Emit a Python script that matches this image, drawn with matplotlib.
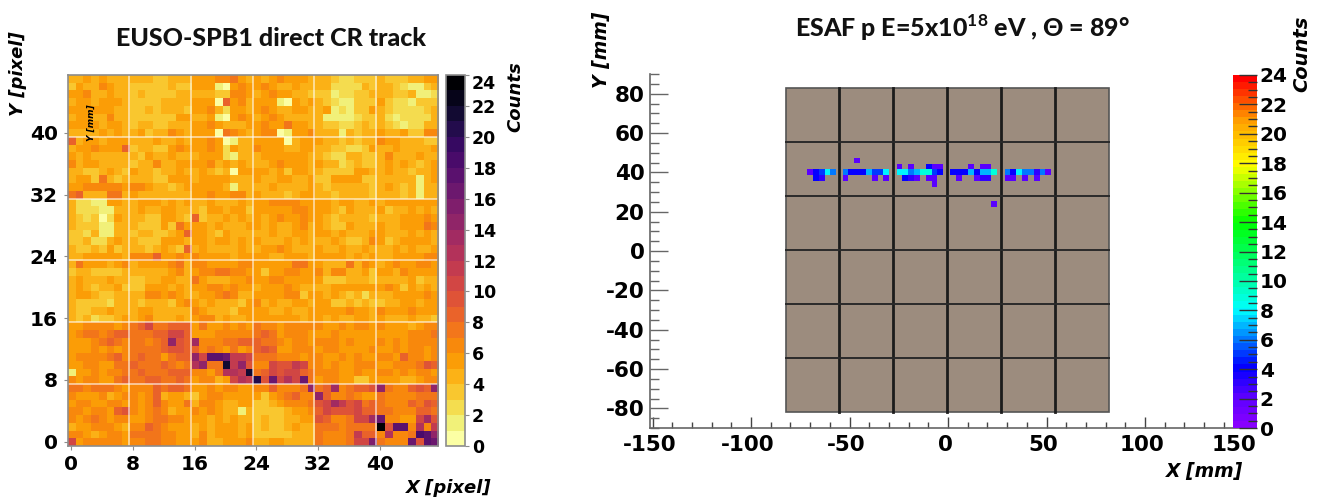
import numpy as np
import matplotlib
matplotlib.use('Agg')
import matplotlib.pyplot as plt
from matplotlib.colors import LinearSegmentedColormap, Normalize
from matplotlib.patches import Rectangle
from matplotlib.ticker import MultipleLocator
from matplotlib.transforms import ScaledTranslation

plt.rcParams['font.family'] = 'DejaVu Sans'
plt.rcParams['mathtext.fontset'] = 'custom'
plt.rcParams['mathtext.bf'] = 'Lato:bold'
plt.rcParams['axes.unicode_minus'] = False

W, H = 1320, 497

# left panel counts, top row (Y=47) first, base 36 digits, six groups of 8 columns
spb_rows = [
    "44545444 44433444 55566754 54565554 44322333 43334455",
    "35446544 33333433 55510565 56544544 44222243 44321134",
    "55644544 34333344 44433665 45655443 33122334 44334112",
    "45545554 33334444 55508564 55510545 43211333 53221333",
    "55555544 33434443 55642554 56544554 45121335 43222234",
    "45544644 33333355 44510565 45654444 41111233 42122224",
    "55554554 34433444 55654445 56557554 43322343 43212244",
    "44445454 45344654 55507654 56601556 44414344 54453366",
    "84554555 44454454 55650144 55550455 54434344 65544433",
    "45565558 34433565 55652544 65554455 44332235 44544445",
    "54544444 43544544 45552144 45555554 43224433 46444544",
    "64554444 34464455 55645454 44565554 54423433 45454345",
    "44334543 54434454 45434055 55453554 43333554 45443445",
    "45537434 44433555 45555444 54455445 33555533 44444145",
    "55666665 66544345 55554144 44544445 43444443 45434144",
    "78444774 54444444 55655664 54443455 44344443 44434144",
    "42211554 45554545 44544454 55666655 55455445 45555555",
    "42221144 45445544 43554553 55555665 55435444 53445454",
    "43230254 44335543 83445454 54565565 54344443 44455565",
    "43331144 43335375 55454445 54544564 54335444 54455576",
    "33241144 34433458 55435444 44544554 55454445 54445454",
    "33422454 43335554 55455454 54445454 44543346 53455554",
    "43343534 44345438 45444454 45565444 54454454 44545445",
    "44555554 66685565 65555455 55445554 55554545 44555566",
    "47555456 45555674 66555566 55555775 54447465 45655665",
    "34433334 44444564 56677665 53556655 64664453 55465555",
    "45444544 33445544 75444556 55665555 53334443 44445344",
    "45434453 33555454 55665655 45556544 44555555 56535454",
    "45543344 44665654 45567644 55556635 54543424 44555565",
    "43333244 43444356 54544435 64544554 55334343 34455455",
    "43344544 45544444 65444355 55445445 55556554 65556555",
    "43423345 45644454 56645445 55555545 54544554 54445443",
    "55666656 78a77888 57556565 76656666 65565665 65554566",
    "56776788 77788aa8 55566666 78756665 55655555 55556667",
    "55567876 77678e98 d6667788 87765665 66656555 65656666",
    "55565656 77778998 86765756 89855666 56655556 55656656",
    "56666786 78775788 eahhgbba 77766656 65565655 66586656",
    "55665577 87778767 ce77lbe9 66a99ba6 65655666 55666798",
    "15565667 78777888 6657ccbl 78a9aa87 66655655 66565665",
    "65665578 77887787 56645acb k9gacag7 56655335 55544566",
    "77677765 66687887 55656655 6686667e 78d67889 e766898e",
    "65556456 65684554 35665555 53567866 e8667655 76666777",
    "56655665 65686557 46654455 33456667 9adb9a78 76668798",
    "66566589 65676455 65654414 33334556 8a999a88 77666887",
    "65676566 55677665 55454544 34334455 98667aad g6655ad9",
    "45566654 66876555 45455545 34334544 77767777 o9hh6c6b",
    "66545665 77776655 46455545 33333444 76667b88 6c667ihe",
    "a5666665 66776655 56445556 44554444 76667aaf 7666g9hg",
]
spb_ticks = [0, 8, 16, 24, 32, 40]
count_ticks = list(range(0, 25, 2))

# right panel, simulated track: one string per row, six PDMs of 8 columns
track_y = [46, 43, 40, 37, 34, 24]
track_rows = [
    "........ ..2..... ........ ........ ........ ........",
    "........ ........ 2.2..422 ...2.22. ........ ........",
    "...24586 64447558 88679954 44474779 64866362 ........",
    "....43.. 2....2.2 .432.22. .2..233. 22.2.2.. ........",
    "........ ........ ......2. ........ ........ ........",
    "........ ........ ........ .......2 ........ ........",
]
pdm_edges = [-82.2, -55.3, -27.9, -0.5, 27.0, 54.3]
pdm_right = 81.7
x_major = [-150, -100, -50, 0, 50, 100, 150]
y_major = [-80, -60, -40, -20, 0, 20, 40, 60, 80]

rainbow_nodes = [0, 2, 4, 8, 11, 14, 18, 21, 24]
rainbow_colors = ['#8800ff', '#5800ff', '#0000ff', '#00ffff', '#00ff80',
                  '#00ff00', '#ffff00', '#ffa000', '#ff0000']


def px_axes(fig, x0, y0, x1, y1):
    # box given in image pixels, y measured from the top
    return fig.add_axes([x0 / W, 1 - y1 / H, (x1 - x0) / W, (y1 - y0) / H])


def px_text(fig, x, y, s, **kw):
    kw.setdefault('ha', 'center')
    kw.setdefault('va', 'center')
    fig.text(x / W, 1 - y / H, s, **kw)


fig = plt.figure(figsize=(W / 100, H / 100), dpi=100)
grey = '#8c8c8c'

# ----------------------------------------------
#                left panel
# ----------------------------------------------
counts = np.array([[int(c, 36) for c in r.replace(' ', '')] for r in spb_rows], dtype=float)[::-1]
inferno = plt.get_cmap('inferno_r', 24)
norm = Normalize(0, 24)

ax = px_axes(fig, 67.5, 75, 437.7, 445.5)
im = ax.imshow(counts + 0.5, origin='lower', aspect='auto', cmap=inferno, norm=norm,
               extent=(-0.5, 47.5, -0.5, 47.5), interpolation='nearest')
for v in [7.5, 15.5, 23.5, 31.5, 39.5]:
    ax.axvline(v, color='white', lw=1.1, alpha=0.7)
    ax.axhline(v, color='white', lw=1.1, alpha=0.7)
ax.set_xticks(spb_ticks)
ax.set_yticks(spb_ticks)
ax.tick_params(length=3, width=0.8, color=grey, pad=4, labelsize=14.5)
for lab in ax.get_xticklabels() + ax.get_yticklabels():
    lab.set_fontweight('bold')
for s in ax.spines.values():
    s.set_color(grey)
    s.set_linewidth(1.2)

cax = px_axes(fig, 446, 75, 465, 446)
cb = fig.colorbar(im, cax=cax, ticks=count_ticks)
cb.ax.tick_params(length=3, width=0.8, color=grey, pad=2, labelsize=12.5)
cb.outline.set_edgecolor(grey)
cb.outline.set_linewidth(1.2)
for lab in cb.ax.get_yticklabels():
    lab.set_fontweight('bold')
cb.ax.get_yticklabels()[-1].set_verticalalignment('top')

px_text(fig, 271, 38, 'EUSO-SPB1 direct CR track', family=['Lato', 'DejaVu Sans'],
        fontweight='black', fontsize=18, color='#111111')
px_text(fig, 18, 74, 'Y [pixel]', rotation=90, fontweight='bold', style='italic', fontsize=13)
px_text(fig, 449, 488, 'X [pixel]', fontweight='bold', style='italic', fontsize=13)
px_text(fig, 515, 97, 'Counts', rotation=90, fontweight='bold', style='italic', fontsize=13)
px_text(fig, 91, 123, 'Y [mm]', rotation=90, fontweight='bold', style='italic', fontsize=6.5)

# ----------------------------------------------
#                right panel
# ----------------------------------------------
rainbow = LinearSegmentedColormap.from_list(
    'esaf', [(n / 24, c) for n, c in zip(rainbow_nodes, rainbow_colors)], N=50)

axr = px_axes(fig, 650, 74, 1243.5, 428)
axr.set_xlim(-151.3, 150)
axr.set_ylim(-90, 90)
for side in ['top', 'right']:
    axr.spines[side].set_visible(False)
for side in ['left', 'bottom']:
    axr.spines[side].set_color('#666666')
    axr.spines[side].set_linewidth(1.2)

axr.add_patch(Rectangle((pdm_edges[0], -81.7), pdm_right - pdm_edges[0], 164.4,
                        facecolor='#9c8c7e', edgecolor='#555555', lw=1.2, zorder=1))
for v in pdm_edges[1:]:
    axr.plot([v, v], [-81.7, 82.7], color='#1c1c1c', lw=2.0, zorder=3)
for v in [-54.3, -27.0, 0.5, 27.9, 55.3]:
    axr.plot([pdm_edges[0], pdm_right], [v, v], color='#2a2a2a', lw=1.4, zorder=3)

cell = 2.96
for y, row in zip(track_y, track_rows):
    for edge, group in zip(pdm_edges, row.split()):
        for i, c in enumerate(group):
            if c != '.':
                axr.bar(edge + 1.75 + (i + 0.5) * cell, cell, cell, y - cell / 2,
                        color=rainbow(int(c) / 24), zorder=2, lw=0)

axr.set_xticks(x_major)
axr.set_yticks(y_major)
axr.xaxis.set_minor_locator(MultipleLocator(10))
axr.yaxis.set_minor_locator(MultipleLocator(5))
axr.tick_params(axis='x', which='major', direction='in', length=8, width=1, color='#444444',
                labelsize=15.5, pad=5)
axr.tick_params(axis='x', which='minor', direction='in', length=4, width=1, color='#444444')
axr.tick_params(axis='y', which='major', direction='in', length=13, width=1, color='#666666',
                labelsize=15.5, pad=4)
axr.tick_params(axis='y', which='minor', direction='in', length=6.5, width=1, color='#666666')
for lab in axr.get_xticklabels():
    lab.set_fontweight('bold')
    shift = -10 if lab.get_text() == '150' else -3
    lab.set_transform(lab.get_transform() + ScaledTranslation(shift / 100, 0, fig.dpi_scale_trans))
for lab in axr.get_yticklabels():
    lab.set_fontweight('bold')

caxr = px_axes(fig, 1233, 75, 1257, 428)
sm = plt.cm.ScalarMappable(norm=norm, cmap=rainbow)
cbr = fig.colorbar(sm, cax=caxr, ticks=count_ticks)
cbr.ax.yaxis.set_minor_locator(MultipleLocator(0.5))
cbr.ax.tick_params(which='major', direction='in', length=13, width=1, color='#333333',
                   pad=2, labelsize=14.5)
cbr.ax.tick_params(which='minor', direction='in', length=6.5, width=1, color='#333333')
cbr.outline.set_visible(False)
for lab in cbr.ax.get_yticklabels():
    lab.set_fontweight('bold')

px_text(fig, 962, 28, 'ESAF p E=5x10$^{\\mathbf{18}}$ eV , Θ = 89°',
        family=['Lato', 'DejaVu Sans'], fontweight='black', fontsize=18, color='#111111')
px_text(fig, 601, 50, 'Y [mm]', rotation=90, fontweight='bold', style='italic', fontsize=13.5)
px_text(fig, 1205, 471, 'X [mm]', fontweight='bold', style='italic', fontsize=13.5)
px_text(fig, 1302, 54, 'Counts', rotation=90, fontweight='bold', style='italic', fontsize=14)

fig.savefig('out.png', dpi=100)
